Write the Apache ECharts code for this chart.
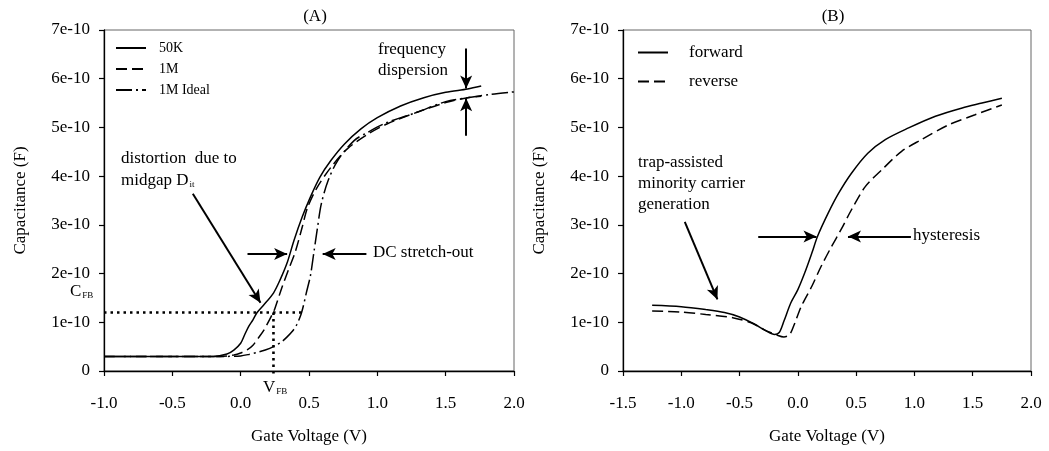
<!DOCTYPE html>
<html>
<head>
<meta charset="utf-8">
<script src="https://cdn.jsdelivr.net/npm/echarts@6/dist/echarts.min.js"></script>
<style>
  html, body { margin: 0; padding: 0; background: #fff; }
  #chart { width: 1049px; height: 451px; }
</style>
</head>
<body>
<div id="chart"></div>
<script>
// Capacitance values are in units of 1e-10 F, gate voltage in V.

// Panel A: C-V curves at two frequencies plus the ideal high-frequency curve
const voltA50K = [-1.0, -0.5, -0.2, -0.1, -0.05, 0.0, 0.03, 0.06, 0.09, 0.12, 0.17, 0.24, 0.29, 0.34, 0.39, 0.45, 0.51, 0.58, 0.66, 0.76, 0.88, 1.0, 1.17, 1.34, 1.5, 1.66, 1.76];
const capA50K  = [0.30, 0.30, 0.30, 0.35, 0.43, 0.57, 0.75, 0.92, 1.05, 1.20, 1.36, 1.60, 1.88, 2.22, 2.68, 3.16, 3.57, 3.98, 4.32, 4.66, 4.97, 5.20, 5.44, 5.61, 5.72, 5.79, 5.85];

const voltA1M = [-1.0, -0.5, -0.15, -0.05, 0.0, 0.05, 0.09, 0.13, 0.17, 0.22, 0.25, 0.30, 0.35, 0.40, 0.45, 0.49, 0.56, 0.66, 0.78, 0.93, 1.07, 1.29, 1.5, 1.66, 1.76];
const capA1M  = [0.30, 0.30, 0.30, 0.33, 0.37, 0.44, 0.53, 0.68, 0.84, 1.10, 1.28, 1.70, 2.08, 2.45, 2.95, 3.36, 3.77, 4.18, 4.56, 4.86, 5.07, 5.31, 5.51, 5.61, 5.64];

const voltA1MIdeal = [-1.0, -0.5, -0.1, 0.0, 0.06, 0.12, 0.18, 0.24, 0.30, 0.34, 0.38, 0.41, 0.44, 0.46, 0.48, 0.51, 0.535, 0.56, 0.59, 0.64, 0.71, 0.83, 0.93, 1.07, 1.29, 1.5, 1.66, 1.83, 2.0];
const capA1MIdeal  = [0.30, 0.30, 0.30, 0.31, 0.34, 0.38, 0.43, 0.50, 0.60, 0.70, 0.82, 0.95, 1.15, 1.35, 1.60, 1.95, 2.42, 2.90, 3.43, 3.91, 4.32, 4.73, 4.90, 5.10, 5.31, 5.53, 5.61, 5.68, 5.73];

// Flat-band point
const flatBandV = 0.24;
const flatBandC = 1.2;

// Panel B: forward and reverse sweeps
const voltBForward = [-1.25, -1.0, -0.79, -0.63, -0.5, -0.37, -0.27, -0.2, -0.16, -0.12, -0.06, 0.0, 0.06, 0.12, 0.17, 0.26, 0.35, 0.46, 0.6, 0.75, 0.95, 1.18, 1.41, 1.58, 1.75];
const capBForward  = [1.35, 1.32, 1.26, 1.20, 1.11, 0.96, 0.82, 0.75, 0.79, 1.02, 1.40, 1.67, 2.02, 2.42, 2.77, 3.24, 3.65, 4.06, 4.47, 4.75, 4.99, 5.23, 5.40, 5.50, 5.60];

const voltBReverse = [-1.25, -1.0, -0.79, -0.55, -0.4, -0.29, -0.17, -0.12, -0.07, -0.03, 0.03, 0.12, 0.2, 0.29, 0.37, 0.46, 0.58, 0.72, 0.89, 1.06, 1.29, 1.52, 1.75];
const capBReverse  = [1.23, 1.21, 1.16, 1.09, 0.99, 0.85, 0.73, 0.70, 0.75, 0.96, 1.33, 1.74, 2.15, 2.56, 2.90, 3.31, 3.79, 4.13, 4.51, 4.75, 5.05, 5.26, 5.46];

// Axis ranges and tick spacing
const yTicks = [0, 1, 2, 3, 4, 5, 6, 7];
const xRangeA = [-1.0, 2.0];
const xRangeB = [-1.5, 2.0];

const FONT = '"Liberation Serif", "Times New Roman", serif';
const pairs = (xs, ys) => xs.map((x, i) => [x, ys[i]]);

const axisLabelY = {
  fontFamily: FONT, fontSize: 17, color: '#000', margin: 14,
  formatter: v => (v === 0 ? '0' : v + 'e-10')
};
const axisLabelX = {
  fontFamily: FONT, fontSize: 17, color: '#000', margin: 24,
  formatter: v => v.toFixed(1)
};
const axisLineStyle = { onZero: false, lineStyle: { color: '#000', width: 1.3 } };
const tickStyle = { show: true, inside: false, length: 5, lineStyle: { color: '#000', width: 1.2 } };

function xAxis(gridIndex, range) {
  return {
    type: 'value', gridIndex, min: range[0], max: range[1], interval: 0.5,
    name: 'Gate Voltage (V)', nameLocation: 'middle', nameGap: 57,
    nameTextStyle: { fontFamily: FONT, fontSize: 17, color: '#000' },
    axisLine: axisLineStyle, axisTick: tickStyle, axisLabel: axisLabelX,
    splitLine: { show: false }
  };
}
function yAxis(gridIndex) {
  return {
    type: 'value', gridIndex, min: yTicks[0], max: yTicks[yTicks.length - 1], interval: 1,
    name: 'Capacitance (F)', nameLocation: 'middle', nameGap: 75,
    nameTextStyle: { fontFamily: FONT, fontSize: 17, color: '#000' },
    axisLine: axisLineStyle, axisTick: tickStyle, axisLabel: axisLabelY,
    splitLine: { show: false }
  };
}

const curve = (name, xi, data, type) => ({
  name, type: 'line', xAxisIndex: xi, yAxisIndex: xi, data,
  symbol: 'none', smooth: 0.3, silent: true,
  itemStyle: { color: '#000' },
  lineStyle: { color: '#000', width: 1.5, type }
});

// Annotation arrow drawn in data coordinates
const arrow = (from, to) => [{ coord: from }, { coord: to }];
const arrowSeries = (xi, lines) => ({
  type: 'line', xAxisIndex: xi, yAxisIndex: xi, data: [], silent: true,
  markLine: {
    silent: true, symbol: ['none', 'arrow'], symbolSize: [9, 13],
    label: { show: false },
    lineStyle: { color: '#000', width: 2, type: 'solid' },
    data: lines
  }
});

const dotted = (name, data) => ({
  name, type: 'line', xAxisIndex: 0, yAxisIndex: 0, data, symbol: 'none',
  clip: false, silent: true,
  lineStyle: { color: '#000', width: 2.6, type: [2.5, 4] }
});

const txt = (x, y, text, extra) => ({
  type: 'text', left: x, top: y, silent: true,
  style: Object.assign({
    text, fill: '#000', font: '17px ' + FONT,
    rich: { sub: { fontSize: 9, fontFamily: FONT, fill: '#000', padding: [9, 0, 0, 1] } }
  }, extra || {})
});

const legendBase = {
  orient: 'vertical', itemWidth: 30, itemHeight: 12, selectedMode: false,
  icon: 'inherit', itemStyle: { color: '#000', opacity: 0 }
};

const chart = echarts.init(document.getElementById('chart'));
chart.setOption({
  animation: false,
  backgroundColor: '#fff',
  grid: [
    { left: 104, right: 535, top: 30, bottom: 80, show: true, borderColor: '#666', borderWidth: 1 },
    { left: 623, right: 18, top: 30, bottom: 80, show: true, borderColor: '#666', borderWidth: 1 }
  ],
  title: [
    { text: '(A)', left: 310, top: 3, textAlign: 'center', textStyle: { fontFamily: FONT, fontSize: 17, fontWeight: 'normal', color: '#000' } },
    { text: '(B)', left: 828, top: 3, textAlign: 'center', textStyle: { fontFamily: FONT, fontSize: 17, fontWeight: 'normal', color: '#000' } }
  ],
  legend: [
    Object.assign({}, legendBase, {
      data: ['50K', '1M', '1M Ideal'], left: 110, top: 36, itemGap: 7,
      textStyle: { fontFamily: FONT, fontSize: 14, color: '#000', padding: [0, 0, 0, 8] }
    }),
    Object.assign({}, legendBase, {
      data: ['forward', 'reverse'], left: 632, top: 39, itemGap: 12,
      textStyle: { fontFamily: FONT, fontSize: 17, color: '#000', padding: [0, 0, 0, 16] }
    })
  ],
  xAxis: [xAxis(0, xRangeA), xAxis(1, xRangeB)],
  yAxis: [yAxis(0), yAxis(1)],
  series: [
    curve('50K', 0, pairs(voltA50K, capA50K), 'solid'),
    curve('1M', 0, pairs(voltA1M, capA1M), [11, 5]),
    curve('1M Ideal', 0, pairs(voltA1MIdeal, capA1MIdeal), [16, 4, 2, 4]),
    dotted('C_FB', [[xRangeA[0], flatBandC], [0.445, flatBandC]]),
    dotted('V_FB', [[flatBandV, flatBandC], [flatBandV, -0.13]]),
    arrowSeries(0, [
      arrow([1.65, 6.62], [1.65, 5.8]),
      arrow([1.65, 4.83], [1.65, 5.6]),
      arrow([-0.35, 3.64], [0.145, 1.4]),
      arrow([0.05, 2.4], [0.34, 2.4]),
      arrow([0.92, 2.4], [0.6, 2.4])
    ]),
    curve('forward', 1, pairs(voltBForward, capBForward), 'solid'),
    curve('reverse', 1, pairs(voltBReverse, capBReverse), [11, 5]),
    arrowSeries(1, [
      arrow([-0.97, 3.06], [-0.69, 1.47]),
      arrow([-0.34, 2.76], [0.16, 2.76]),
      arrow([0.97, 2.76], [0.43, 2.76])
    ])
  ],
  graphic: [
    txt(378, 41, 'frequency'),
    txt(378, 62, 'dispersion'),
    txt(121, 150, 'distortion  due to'),
    txt(121, 172, 'midgap D{sub|it}'),
    txt(373, 244, 'DC stretch-out'),
    txt(70, 283, 'C{sub|FB}'),
    txt(263, 379, 'V{sub|FB}'),
    txt(638, 154, 'trap-assisted'),
    txt(638, 175, 'minority carrier'),
    txt(638, 196, 'generation'),
    txt(913, 227, 'hysteresis')
  ]
});
</script>
</body>
</html>
